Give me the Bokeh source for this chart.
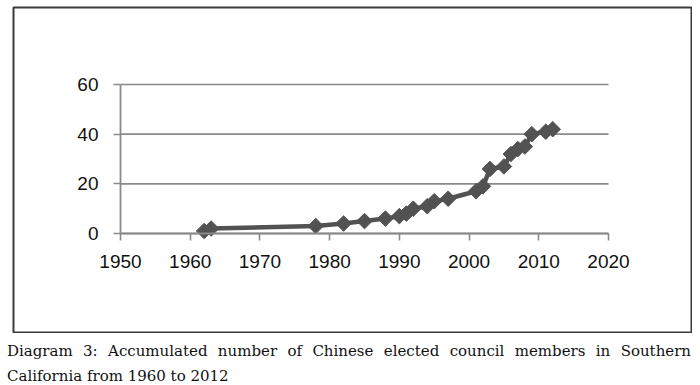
from bokeh.plotting import figure
from bokeh.models import Range1d, FixedTicker, Div, LinearAxis
from bokeh.layouts import column
from bokeh.embed import file_html
from bokeh.resources import INLINE

# Data
years = [1962, 1963, 1978, 1982, 1985, 1988, 1990, 1991, 1992, 1994, 1995,
         1997, 2001, 2002, 2003, 2005, 2006, 2007, 2008, 2009, 2011, 2012]
members = [1, 2, 3, 4, 5, 6, 7, 8, 10, 11, 13,
           14, 17, 19, 26, 27, 32, 34, 35, 40, 41, 42]
x_ticks = [1950, 1960, 1970, 1980, 1990, 2000, 2010, 2020]
y_ticks = [0, 20, 40, 60]
caption = ("Diagram 3: Accumulated number of Chinese elected council members "
           "in Southern California from 1960 to 2012")

GRID = "#8a8a8a"
MARK = "#525252"

# Chart-area box (frame) spans beyond the plotted 1950-2020 / 0-60 area,
# like the outer border of a spreadsheet chart.
x_lo, x_hi = x_ticks[0], x_ticks[-1]
y_lo, y_hi = y_ticks[0], y_ticks[-1]
px_per_year = 6.971
px_per_unit = 2.483

p = figure(width=692, height=333, output_backend="svg", toolbar_location=None,
           x_range=Range1d(x_lo - 107 / px_per_year, x_hi + 83 / px_per_year),
           y_range=Range1d(y_lo - 99 / px_per_unit, y_hi + 77 / px_per_unit),
           x_axis_location=None, y_axis_location=None,
           min_border_left=13, min_border_right=1,
           min_border_top=7, min_border_bottom=1)
p.outline_line_color = "#3a3a3a"
p.outline_line_width = 2
p.background_fill_color = "white"
p.border_fill_color = "white"
p.xgrid.visible = False
p.ygrid.visible = False

# horizontal gridlines, only across the plotted range
p.segment(x0=[x_lo] * len(y_ticks), x1=[x_hi] * len(y_ticks),
          y0=y_ticks, y1=y_ticks, line_color=GRID, line_width=1.6)

xaxis = LinearAxis(fixed_location=y_lo, bounds=(x_lo, x_hi),
                   ticker=FixedTicker(ticks=x_ticks))
yaxis = LinearAxis(fixed_location=x_lo, bounds=(y_lo, y_hi),
                   ticker=FixedTicker(ticks=y_ticks))
for ax in (xaxis, yaxis):
    ax.axis_line_color = GRID
    ax.axis_line_width = 1.8
    ax.major_tick_line_color = GRID
    ax.major_tick_line_width = 1.6
    ax.major_tick_in = 0
    ax.major_tick_out = 7
    ax.minor_tick_line_color = None
    ax.major_label_text_font = "Liberation Sans"
    ax.major_label_text_font_size = "19px"
    ax.major_label_text_color = "#111111"
xaxis.major_label_standoff = 15
yaxis.major_label_standoff = 15
p.add_layout(xaxis, "below")
p.add_layout(yaxis, "left")

p.line(years, members, line_width=4.5, color=MARK)
p.scatter(years, members, marker="square", angle=0.785398, size=11,
          line_width=1, color=MARK)

div = Div(text=caption, width=684,
          styles={"font-family": "DejaVu Serif", "font-size": "15px",
                  "line-height": "25px", "text-align": "justify",
                  "color": "#111111"})
div.margin = (6, 0, 0, 7)

layout = column(p, div)
open("out.html", "w").write(file_html(layout, INLINE))
